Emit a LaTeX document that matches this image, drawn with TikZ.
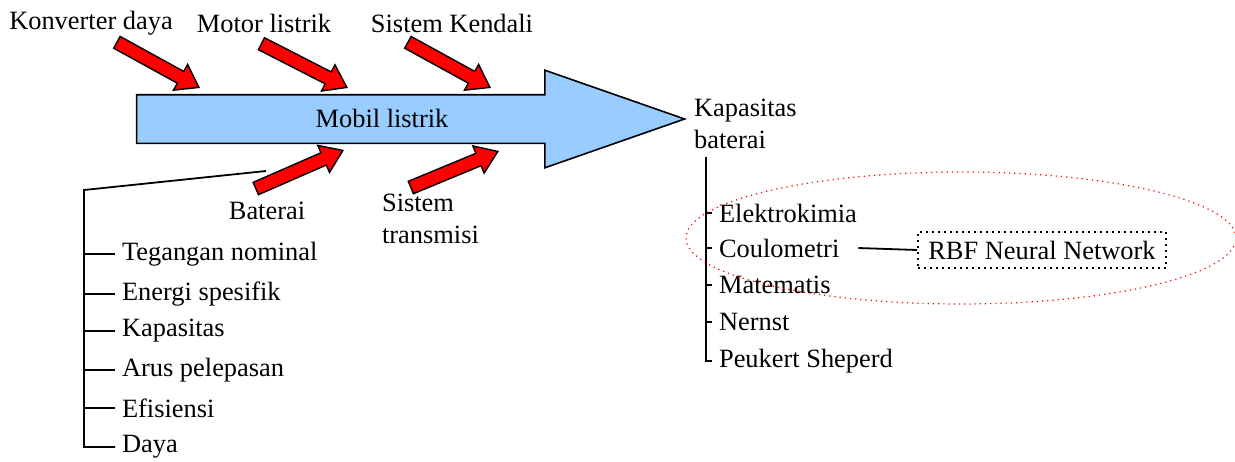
\documentclass[tikz,border=0pt]{standalone}
\usepackage{fontspec}
\setmainfont{Liberation Serif}
\usetikzlibrary{positioning,shapes.arrows,shapes.geometric,calc}
\definecolor{spineblue}{HTML}{99CCFF}
\definecolor{causered}{HTML}{FF0000}
\tikzset{
  cause/.style={single arrow, draw=black, fill=causered, line width=0.7pt, inner sep=3pt,
    single arrow head extend=4pt, single arrow tip angle=70, anchor=tip},
  branch/.style={line width=0.9pt},
  item/.style={anchor=west},
}

\begin{document}
\begin{tikzpicture}[x=0.5pt, y=-0.5pt, font=\fontsize{13.2}{16}\selectfont]
    \useasboundingbox (0,0) rectangle (1235,461);
    \node[single arrow, draw=black, fill=spineblue, line width=0.8pt, inner sep=11.75pt,
      single arrow head extend=12.25pt, single arrow tip angle=38.5, minimum height=274pt,
      anchor=tip] (spine) at (687,119) {};
    \node (mobil) at (382,118) {Mobil listrik};
    \node (konv) at (91,23) {Konverter daya};
    \node (motor) at (264,23) {Motor listrik};
    \node (kendali) at (452,23) {Sistem Kendali};
    \node[cause, rotate=-28.8, minimum height=46.8pt] (a1) at (200,88) {};
    \node[cause, rotate=-27.1, minimum height=48pt] (a2) at (348,88) {};
    \node[cause, rotate=-28.8, minimum height=46.8pt] (a3) at (491,88) {};
    \node[cause, rotate=23.6, minimum height=47.5pt] (a4) at (344,150) {};
    \node[cause, rotate=22.5, minimum height=47.1pt] (a5) at (499,151) {};
    \node (baterai) at (267,211) {Baterai};
    \node[item, align=left] (transmisi) at (375,219) {Sistem\\transmisi};
    \node[item, align=left] (kapbat) at (687,124) {Kapasitas\\baterai};
    % baterai branch
    \coordinate (batin) at (266,171);
    \coordinate (bat0) at (84,190);
    \node[item] (teg) at (115,254) {Tegangan nominal};
    \node[item] (energi) at (115,294) {Energi spesifik};
    \node[item] (kap) at (115,331) {Kapasitas};
    \node[item] (arus) at (115,370) {Arus pelepasan};
    \node[item] (efis) at (115,408) {Efisiensi};
    \node[item] (daya) at (115,447) {Daya};
    \draw[branch] (batin) -- (bat0) |- (daya.west);
    \draw[branch] (bat0 |- teg.west) -- (teg.west);
    \draw[branch] (bat0 |- energi.west) -- (energi.west);
    \draw[branch] (bat0 |- kap.west) -- (kap.west);
    \draw[branch] (bat0 |- arus.west) -- (arus.west);
    \draw[branch] (bat0 |- efis.west) -- (efis.west);
    % kapasitas baterai branch
    \coordinate (kap0) at (706,157);
    \node[item] (elektro) at (712,213) {Elektrokimia};
    \node[item] (coul) at (712,248) {Coulometri};
    \node[item] (matem) at (712,285) {Matematis};
    \node[item] (nernst) at (712,322) {Nernst};
    \node[item] (peuk) at (712,361) {Peukert Sheperd};
    \draw[branch] (kap0) |- (peuk.west);
    \draw[branch] (kap0 |- elektro.west) -- (elektro.west);
    \draw[branch] (kap0 |- coul.west) -- (coul.west);
    \draw[branch] (kap0 |- matem.west) -- (matem.west);
    \draw[branch] (kap0 |- nernst.west) -- (nernst.west);
    \node[draw, dotted, line width=1pt, minimum width=124pt, minimum height=18pt] (rbf) at (1042,250) {RBF Neural Network};
    \draw[branch] ([xshift=6pt]coul.east) -- (rbf.west);
    \node[draw=red, dotted, ellipse, line width=0.6pt, minimum width=275pt, minimum height=66pt] (oval) at (961,238) {};
\end{tikzpicture}
\end{document}
